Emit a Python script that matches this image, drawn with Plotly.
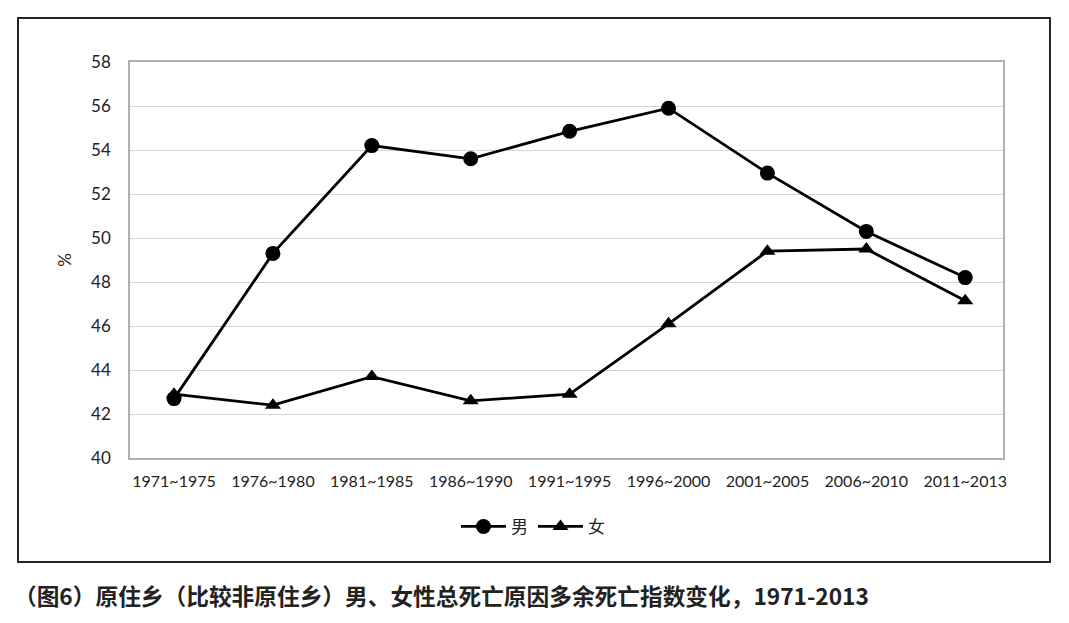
import plotly.graph_objects as go

# Data
periods = ["1971~1975", "1976~1980", "1981~1985", "1986~1990", "1991~1995",
           "1996~2000", "2001~2005", "2006~2010", "2011~2013"]
male = [42.7, 49.3, 54.2, 53.6, 54.85, 55.9, 52.95, 50.3, 48.2]
female = [42.9, 42.4, 43.7, 42.6, 42.9, 46.1, 49.4, 49.5, 47.15]
y_ticks = [40, 42, 44, 46, 48, 50, 52, 54, 56, 58]

caption = "（图6）原住乡（比较非原住乡）男、女性总死亡原因多余死亡指数变化，1971-2013"

idx = list(range(len(periods)))

fig = go.Figure()
fig.add_trace(go.Scatter(x=idx, y=male, name="男", mode="lines+markers",
                         line=dict(color="black", width=2.8),
                         marker=dict(symbol="circle", size=15, color="black")))
fig.add_trace(go.Scatter(x=idx, y=female, name="女", mode="lines+markers",
                         line=dict(color="black", width=2.8),
                         marker=dict(symbol="triangle-up", size=14, color="black")))

# outer frame around the chart area
fig.add_shape(type="rect", xref="paper", yref="paper",
              x0=-0.1283, x1=1.0538, y0=-0.2626, y1=1.1111,
              line=dict(color="#222222", width=2), layer="below")

fig.add_annotation(xref="paper", yref="paper", x=-0.135, y=-0.3,
                   xanchor="left", yanchor="top", showarrow=False,
                   text="<b>" + caption + "</b>",
                   font=dict(family="Noto Sans CJK SC", size=22.7, color="#222222"))

# page has an 8px body margin, so the figure is shrunk to fit the window
fig.update_layout(
    width=1053, height=607,
    margin=dict(l=122, r=58, t=54, b=157),
    plot_bgcolor="white", paper_bgcolor="white",
    font=dict(family="Lato, Open Sans, sans-serif", color="#222222"),
    legend=dict(orientation="h", x=0.4616, xanchor="center", y=-0.174, yanchor="middle",
                font=dict(family="Noto Sans CJK SC", size=17), itemwidth=45),
)
fig.update_xaxes(range=[-0.445, 8.382], tickmode="array", tickvals=idx, ticktext=periods,
                 showgrid=False, zeroline=False, showline=True, mirror=True,
                 linecolor="#b0b0b0", linewidth=1.5, ticklabelstandoff=8,
                 tickfont=dict(size=16))
fig.update_yaxes(range=[40, 58], tickvals=y_ticks, showgrid=True, gridcolor="#d4d4d4",
                 gridwidth=1.2, zeroline=False, showline=True, mirror=True,
                 linecolor="#b0b0b0", linewidth=1.5, ticklabelstandoff=14,
                 tickfont=dict(size=17),
                 title=dict(text="%", font=dict(size=17), standoff=15))

fig.write_html("out.html")
